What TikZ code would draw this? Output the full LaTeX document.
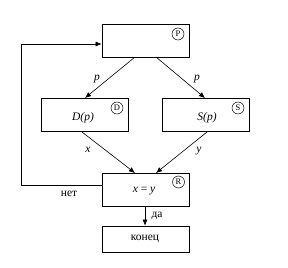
\documentclass[tikz,border=0pt]{standalone}
\usepackage{fontspec}
\setmainfont{Liberation Serif}
\usetikzlibrary{arrows.meta}
\begin{document}
\begin{tikzpicture}[x=1pt,y=-1pt,
  blk/.style={draw,line width=0.7pt,minimum width=87pt,minimum height=33pt,inner sep=0pt},
  circ/.style={draw,circle,line width=0.5pt,minimum size=12pt,inner sep=0pt,font=\fontsize{8.5}{8.5}\selectfont},
  lbl/.style={font=\fontsize{11.5}{12}\selectfont\itshape,inner sep=0pt},
  txt/.style={font=\fontsize{11.5}{12}\selectfont,inner sep=0pt},
  arr/.style={line width=0.6pt,-{Latex[length=6pt,width=5pt]}},
  ln/.style={line width=0.6pt}]
\useasboundingbox (0,0) rectangle (288,267);
\node[blk] (P) at (145.5,40.5) {};
\node[circ] (cP) at (178,34) {P};
\node[blk] (D) at (84.5,115) {};
\node[lbl] (tD) at (83,118) {D(p)};
\node[circ] (cD) at (117,108) {D};
\node[blk] (S) at (205.5,115) {};
\node[lbl] (tS) at (207,118) {S(p)};
\node[circ] (cS) at (238,108) {S};
\node[blk] (R) at (145.5,189.5) {};
\node[txt] (tR) at (144,191) {\textit{x} = \textit{y}};
\node[circ] (cR) at (178.5,182) {R};
\node[blk,minimum height=26pt] (E) at (145.5,239) {};
\node[txt] (tE) at (145,239) {конец};
\coordinate (p1) at (135,57);
\coordinate (p2) at (156,57);
\coordinate (d1) at (85,98);
\coordinate (s1) at (205,98);
\coordinate (d2) at (82,132);
\coordinate (s2) at (207,132);
\coordinate (r1) at (135,173);
\coordinate (r2) at (156,173);
\coordinate (c1) at (21,185);
\coordinate (c2) at (21,44);
\draw[arr] (p1) -- (d1);
\draw[arr] (p2) -- (s1);
\draw[arr] (d2) -- (r1);
\draw[arr] (s2) -- (r2);
\draw[arr] (R.west |- c1) -- (c1) -- (c2) -- (P.west |- c2);
\draw[arr] (R.south -| tE) -- (E.north -| tE);
\node[lbl] (lp1) at (97,79) {p};
\node[lbl] (lp2) at (197,79) {p};
\node[lbl] (lx) at (88,150) {x};
\node[lbl] (ly) at (199,151) {y};
\node[txt] (no) at (69,194) {нет};
\node[txt] (yes) at (157,216) {да};
\end{tikzpicture}
\end{document}
